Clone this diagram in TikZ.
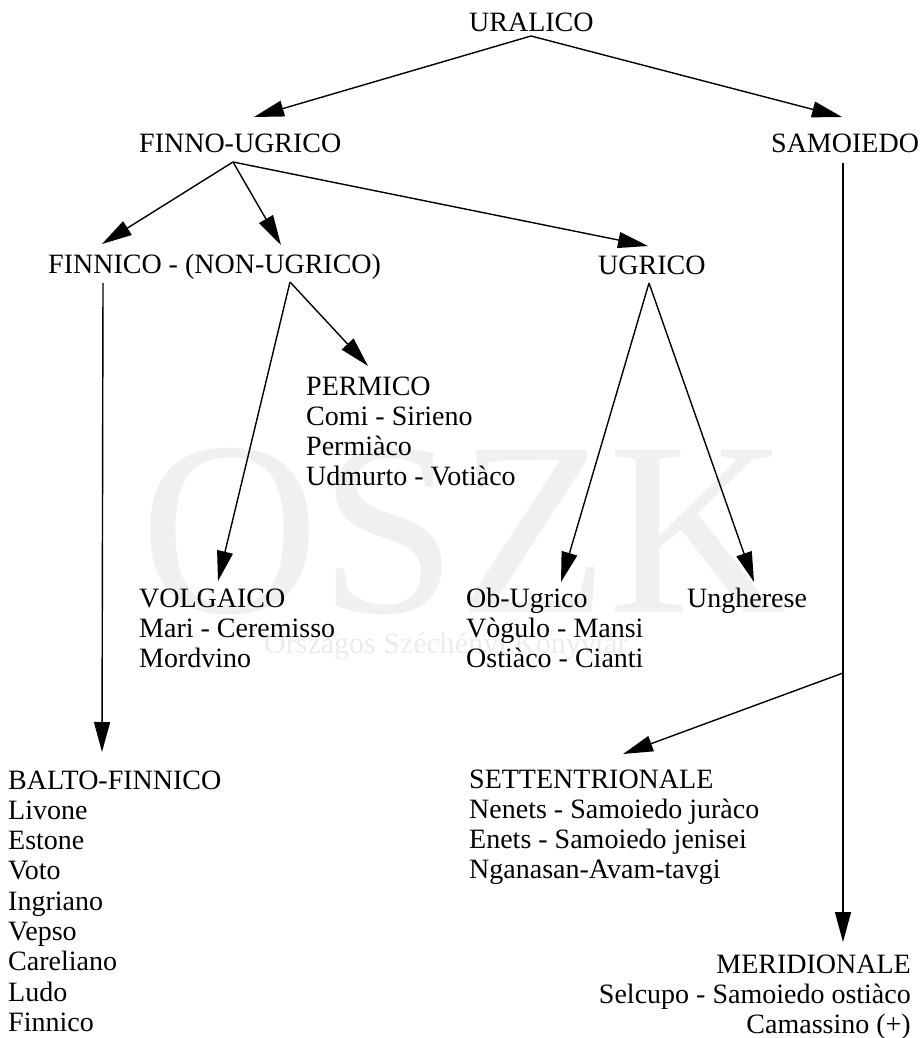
\documentclass[tikz,border=0pt]{standalone}
\usepackage{fontspec}
\setmainfont{Liberation Serif}
\usetikzlibrary{arrows.meta}
\newcommand{\lblock}[1]{\begin{tabular}[t]{@{}l@{}}#1\end{tabular}}
\newcommand{\rblock}[1]{\begin{tabular}[t]{@{}r@{}}#1\end{tabular}}
\begin{document}
\begin{tikzpicture}[x=1pt,y=-1pt,
  lbl/.style={inner sep=0pt, anchor=base west, font=\fontsize{28}{30.3}\selectfont},
  arr/.style={line width=1.4pt, -{Triangle[length=30pt,width=16pt]}},
  wmark/.style={inner sep=0pt, anchor=base west}]
\useasboundingbox (0,0) rectangle (920,1038);
% watermark
\node[wmark, text=black!6, font=\fontsize{248}{248}\selectfont] (wm) at (140,612) {OSZK};
\node[wmark, text=black!8, font=\fontsize{30}{30}\selectfont] (wm2) at (264,653) {Országos Széchényi Könyvtár};
% labels
\node[lbl] (ural) at (469,32) {URALICO};
\node[lbl] (finno) at (139,152) {FINNO-UGRICO};
\node[lbl] (samo) at (771,153) {SAMOIEDO};
\node[lbl] (finnic) at (48,273) {FINNICO - (NON-UGRICO)};
\node[lbl] (ugr) at (598,274) {UGRICO};
\node[lbl] (perm) at (306,395) {\lblock{PERMICO\\Comi - Sirieno\\Permiàco\\Udmurto - Votiàco}};
\node[lbl] (volg) at (139,607) {\lblock{VOLGAICO\\Mari - Ceremisso\\Mordvino}};
\node[lbl] (obu) at (466,607) {\lblock{Ob-Ugrico\\Vògulo - Mansi\\Ostiàco - Cianti}};
\node[lbl] (ung) at (687,607) {Ungherese};
\node[lbl] (balto) at (8,789) {\lblock{BALTO-FINNICO\\Livone\\Estone\\Voto\\Ingriano\\Vepso\\Careliano\\Ludo\\Finnico}};
\node[lbl] (sett) at (469,788) {\lblock{SETTENTRIONALE\\Nenets - Samoiedo juràco\\Enets - Samoiedo jenisei\\Nganasan-Avam-tavgi}};
\node[lbl, anchor=base east] (meri) at (911,973) {\rblock{MERIDIONALE\\Selcupo - Samoiedo ostiàco\\Camassino (+)}};
% connection points
\coordinate (ural-o) at (531,36);
\coordinate (finno-i) at (254,117);
\coordinate (samo-i) at (842,117);
\coordinate (finno-o) at (233,162);
\coordinate (finnic-i) at (102,244);
\coordinate (non-i) at (281,245);
\coordinate (ugr-i) at (648,246);
\coordinate (finnic-o) at (103,283);
\coordinate (non-o) at (290,282);
\coordinate (perm-i) at (368,366);
\coordinate (volg-i) at (218,581);
\coordinate (balto-i) at (102,752);
\coordinate (ugr-o) at (649,283);
\coordinate (obu-i) at (561,582);
\coordinate (ung-i) at (754,582);
\coordinate (samo-o) at (843,163);
\coordinate (split) at (843,673);
\coordinate (sett-i) at (623,754);
\coordinate (meri-i) at (843,942);
% connectors
\draw[arr] (ural-o) -- (finno-i);
\draw[arr] (ural-o) -- (samo-i);
\draw[arr] (finno-o) -- (finnic-i);
\draw[arr] (finno-o) -- (non-i);
\draw[arr] (finno-o) -- (ugr-i);
\draw[arr] (finnic-o) -- (balto-i);
\draw[arr] (non-o) -- (perm-i);
\draw[arr] (non-o) -- (volg-i);
\draw[arr] (ugr-o) -- (obu-i);
\draw[arr] (ugr-o) -- (ung-i);
\draw[arr] (samo-o) -- (meri-i);
\draw[arr] (split) -- (sett-i);
\end{tikzpicture}
\end{document}
